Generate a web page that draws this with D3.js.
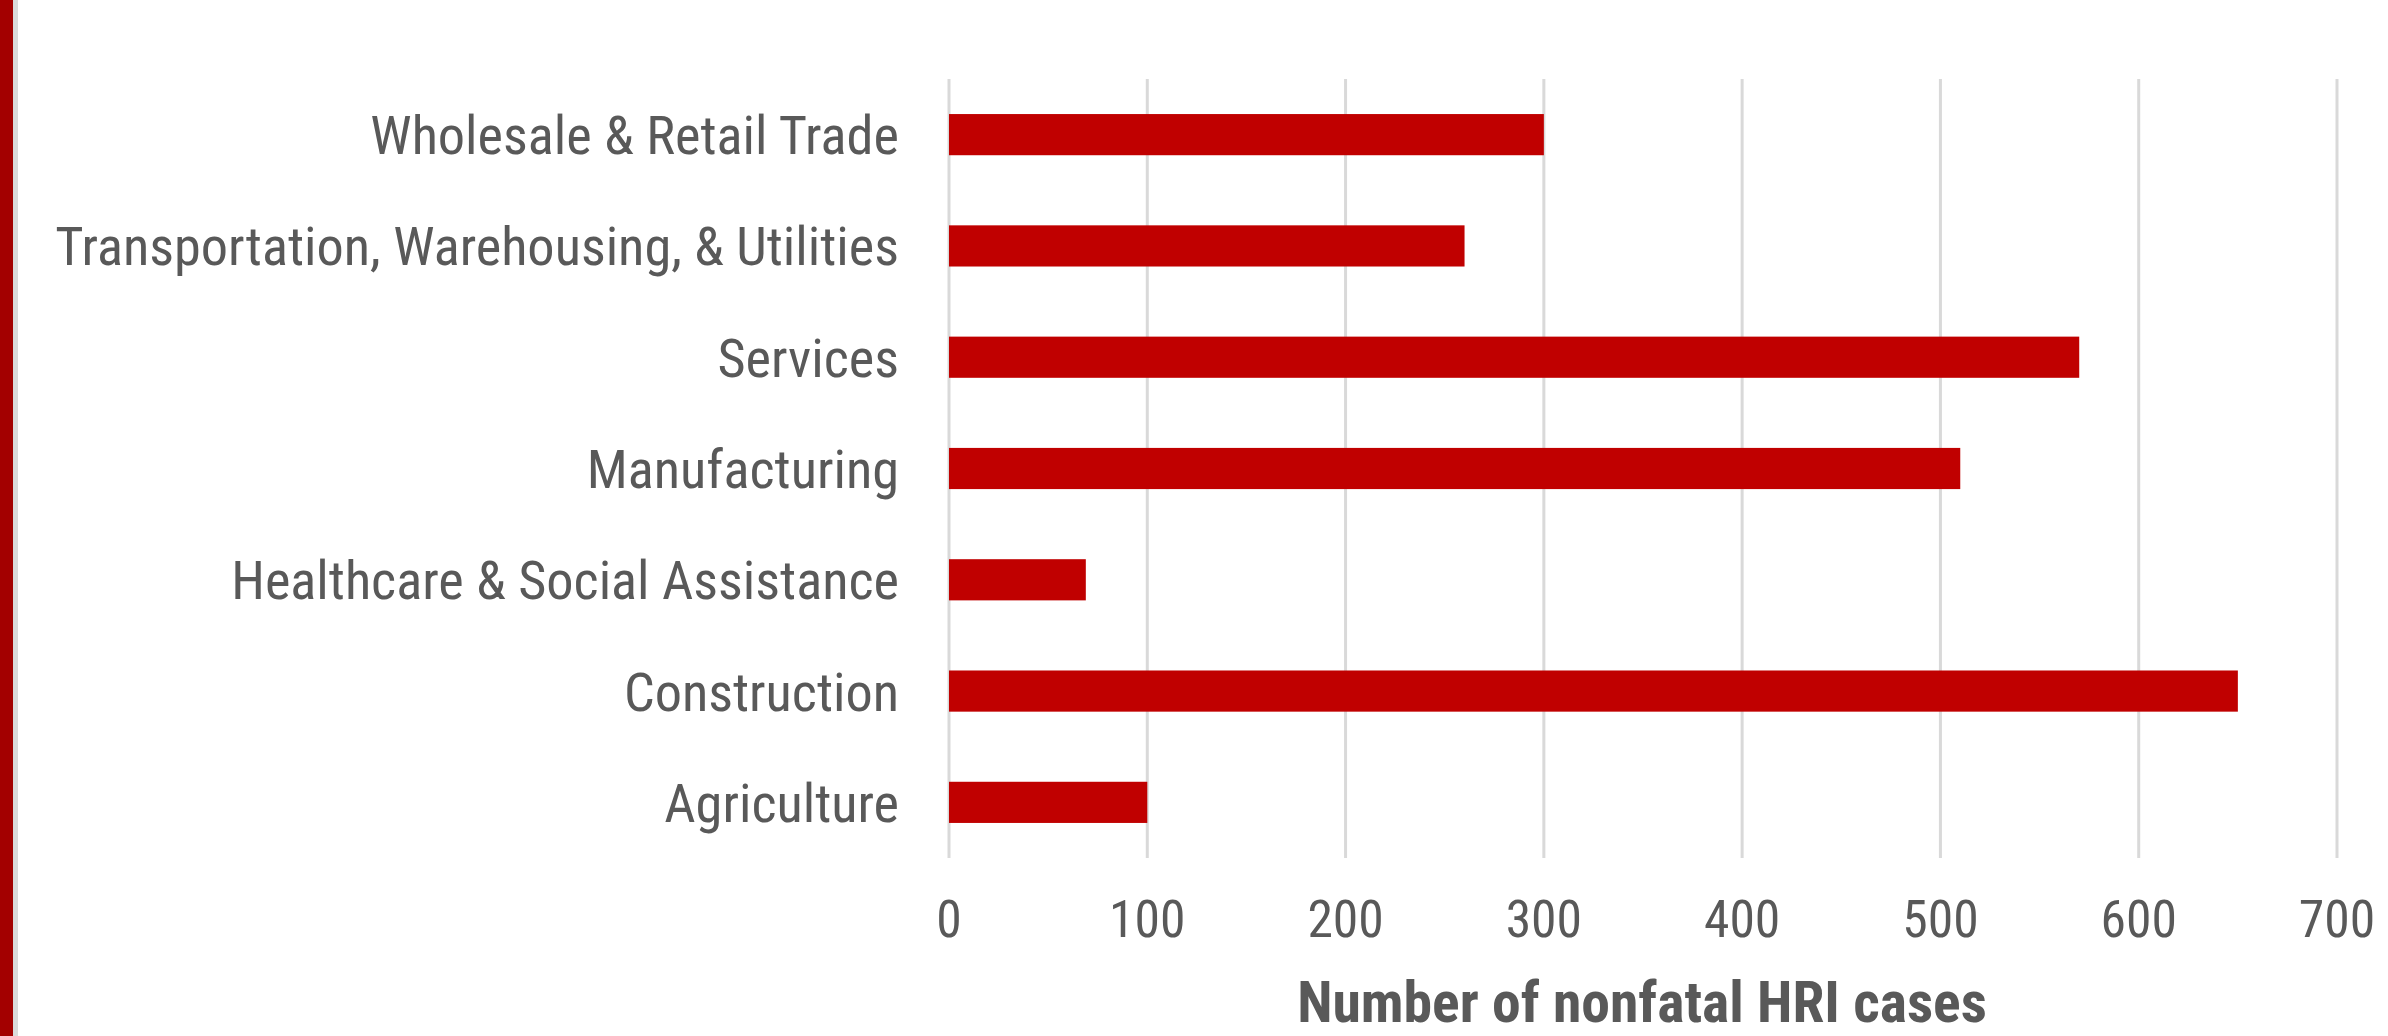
<!DOCTYPE html>
<html>
<head>
<meta charset="utf-8">
<script src="https://cdn.jsdelivr.net/npm/d3@7"></script>
<style>
  html, body { margin: 0; padding: 0; background: #fff; overflow: hidden; }
  svg { display: block; }
</style>
</head>
<body>
<div class="chart"></div>
<script>
// data
const industries = [
  "Wholesale & Retail Trade",
  "Transportation, Warehousing, & Utilities",
  "Services",
  "Manufacturing",
  "Healthcare & Social Assistance",
  "Construction",
  "Agriculture"
];
const hriCases = [300, 260, 570, 510, 69, 650, 100];
const xTicks = [0, 100, 200, 300, 400, 500, 600, 700];
const xTitle = "Number of nonfatal HRI cases";

// page size and plot box
const width = 2388;
const height = 1036;
const plot = { left: 949, right: 2337, top: 79, bottom: 858 };

const labelFont = "'Liberation Sans Narrow', 'Roboto Condensed', 'Liberation Sans', sans-serif";
const textColor = "#595959";

const svg = d3.select(".chart")
  .append("svg")
  .attr("width", width)
  .attr("height", height);

// red strip on the left edge
svg.append("rect").attr("x", 0).attr("y", 0).attr("width", 13).attr("height", height).attr("fill", "#a30000");
svg.append("rect").attr("x", 13).attr("y", 0).attr("width", 5).attr("height", height).attr("fill", "#dadada");

// scales
const x = d3.scaleLinear().domain([0, 700]).range([plot.left, plot.right]);
const y = d3.scaleBand()
  .domain(industries)
  .range([plot.top, plot.bottom])
  .paddingInner(0.63)
  .paddingOuter(0.315);

// vertical gridlines
svg.append("g")
  .selectAll("line")
  .data(xTicks)
  .enter()
  .append("line")
  .attr("x1", d => x(d))
  .attr("x2", d => x(d))
  .attr("y1", plot.top)
  .attr("y2", plot.bottom)
  .attr("stroke", "#d9d9d9")
  .attr("stroke-width", 3);

// bars
svg.append("g")
  .selectAll("rect")
  .data(industries)
  .enter()
  .append("rect")
  .attr("x", x(0))
  .attr("y", d => y(d))
  .attr("width", (d, i) => x(hriCases[i]) - x(0))
  .attr("height", y.bandwidth())
  .attr("fill", "#c00000");

// category labels
const catLabels = svg.append("g")
  .selectAll("text")
  .data(industries)
  .enter()
  .append("text")
  .attr("x", 899)
  .attr("y", d => y(d) + y.bandwidth() / 2)
  .attr("dy", "0.36em")
  .attr("text-anchor", "end")
  .attr("fill", textColor)
  .style("font-family", labelFont)
  .style("font-size", "50px")
  .text(d => d);

// fit font size so the longest label spans like the reference
let maxW = 0;
catLabels.each(function () { maxW = Math.max(maxW, this.getComputedTextLength()); });
const labelSize = 50 * 844 / maxW;
catLabels.style("font-size", labelSize + "px");

// x tick labels
svg.append("g")
  .selectAll("text")
  .data(xTicks)
  .enter()
  .append("text")
  .attr("x", d => x(d))
  .attr("y", 937)
  .attr("text-anchor", "middle")
  .attr("fill", textColor)
  .style("font-family", labelFont)
  .style("font-size", (labelSize * 0.95) + "px")
  .text(d => d);

// axis title
const title = svg.append("text")
  .attr("x", 1642)
  .attr("y", 1022)
  .attr("text-anchor", "middle")
  .attr("fill", textColor)
  .style("font-family", labelFont)
  .style("font-weight", "bold")
  .style("font-size", "50px")
  .text(xTitle);
const tW = title.node().getComputedTextLength();
title.style("font-size", (50 * 690 / tW) + "px");
</script>
</body>
</html>
